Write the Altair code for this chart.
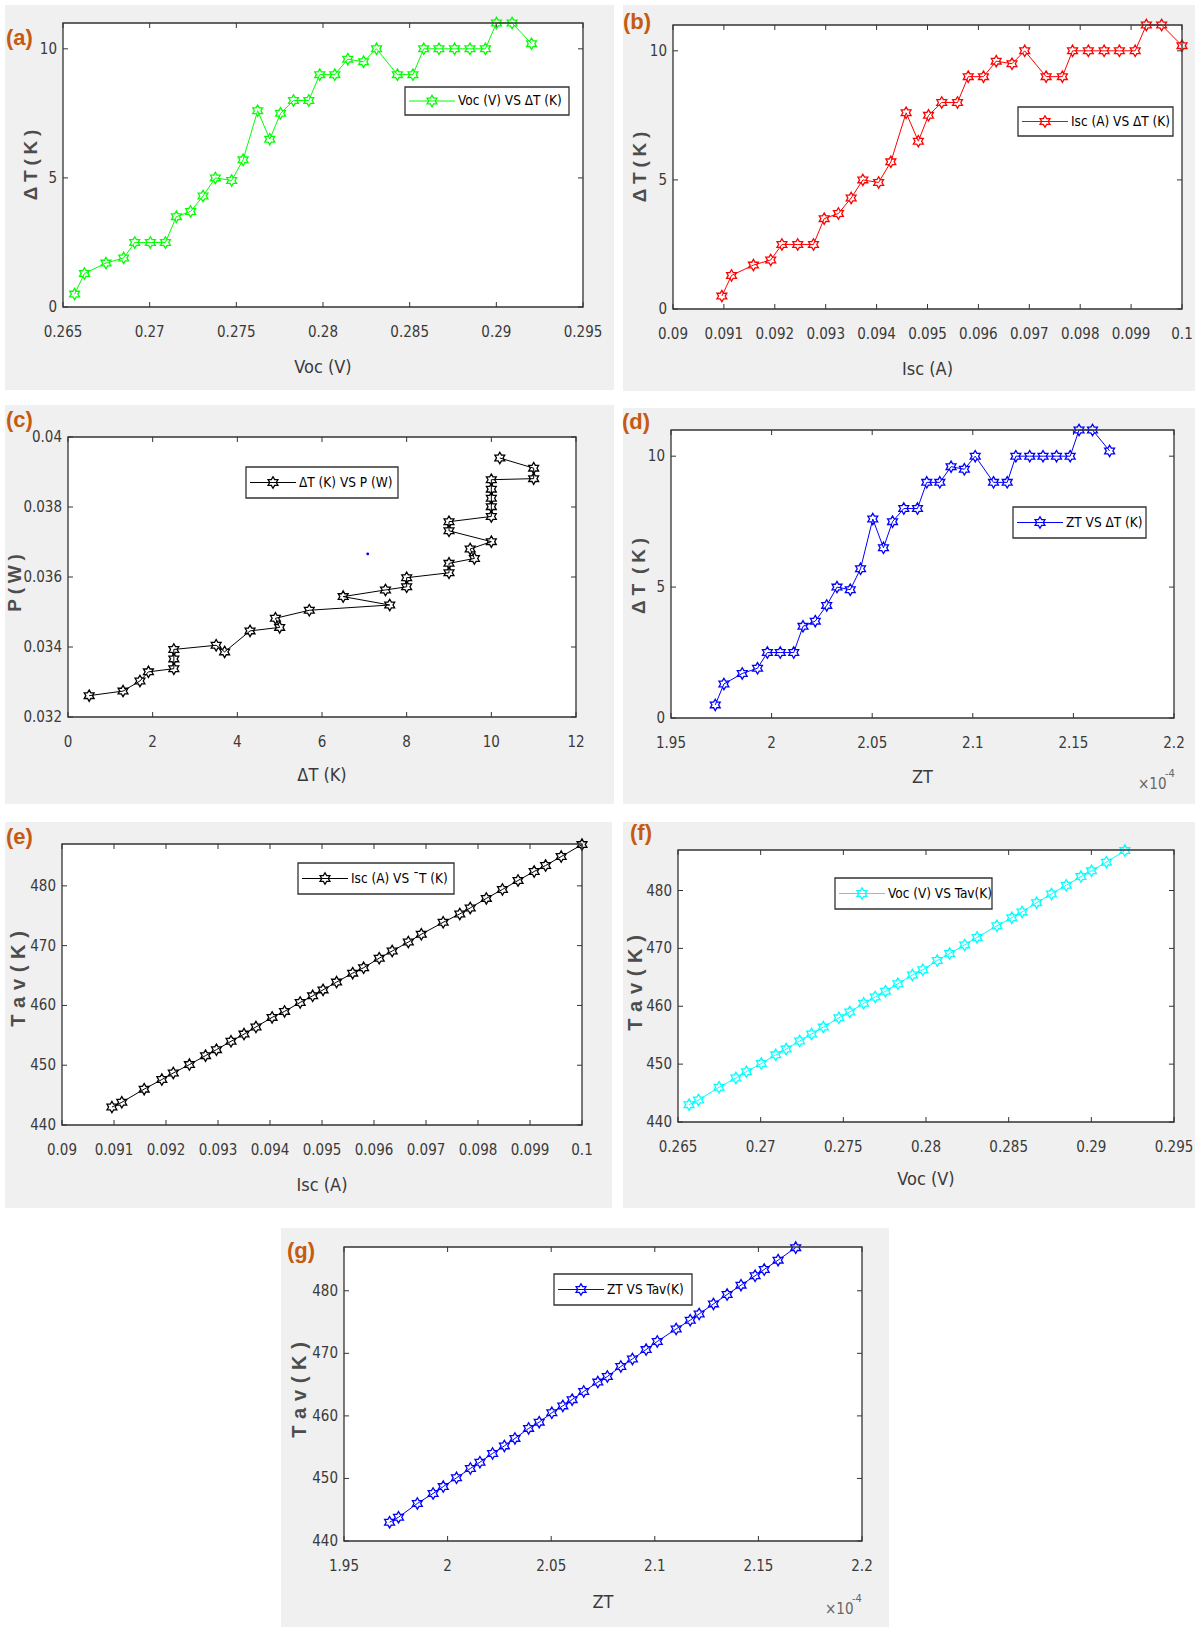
import altair as alt
import pandas as pd

# ---------------- data ----------------
delta_T = [0.5, 1.3, 1.7, 1.9, 2.5, 2.5, 2.5, 3.5, 3.7, 4.3, 5.0, 4.9, 5.7, 7.6, 6.5, 7.5,
           8.0, 8.0, 9.0, 9.0, 9.6, 9.5, 10.0, 9.0, 9.0, 10.0, 10.0, 10.0, 10.0, 10.0,
           11.0, 11.0, 10.2]
voc = [0.26567, 0.26624, 0.26748, 0.2685, 0.26914, 0.27004, 0.27091, 0.27154, 0.27236,
       0.27308, 0.27379, 0.27473, 0.27539, 0.27623, 0.27693, 0.27755, 0.27830, 0.27918,
       0.27981, 0.28068, 0.28143, 0.28234, 0.28309, 0.28429, 0.28519, 0.28581, 0.28669,
       0.28759, 0.28848, 0.28937, 0.29001, 0.29091, 0.29203]
isc = [0.09096, 0.09115, 0.09158, 0.09192, 0.09214, 0.09245, 0.09276, 0.09297, 0.09325,
       0.0935, 0.09373, 0.09404, 0.09428, 0.09458, 0.09482, 0.09502, 0.09528, 0.09559,
       0.0958, 0.0961, 0.09635, 0.09666, 0.09691, 0.09733, 0.09765, 0.09785, 0.09816,
       0.09847, 0.09877, 0.09908, 0.0993, 0.0996, 0.1]
zt_e4 = [1.972, 1.9763, 1.9854, 1.993, 1.9979, 2.0043, 2.011, 2.0156, 2.0217, 2.0274,
         2.0325, 2.0391, 2.0442, 2.0503, 2.0556, 2.0601, 2.0657, 2.0725, 2.0771, 2.0836,
         2.0892, 2.0958, 2.1012, 2.1103, 2.1171, 2.1214, 2.1283, 2.1349, 2.1416, 2.1484,
         2.1528, 2.1595, 2.168]
tav = [443.0, 443.8, 446.0, 447.6, 448.7, 450.1, 451.6, 452.6, 454.0, 455.2, 456.4, 458.0,
       459.0, 460.5, 461.6, 462.6, 463.9, 465.4, 466.3, 467.9, 469.1, 470.6, 471.9, 473.9,
       475.3, 476.3, 477.9, 479.4, 480.9, 482.4, 483.4, 484.9, 486.9]
power = [0.03261, 0.03274, 0.03303, 0.03329, 0.03338, 0.03366, 0.03393, 0.03405, 0.03386,
         0.03446, 0.03456, 0.03482, 0.03505, 0.03520, 0.03544, 0.03563, 0.03572, 0.03598,
         0.03612, 0.03639, 0.03653, 0.03680, 0.03701, 0.03732, 0.03758, 0.03773, 0.03801,
         0.03825, 0.03851, 0.03878, 0.03881, 0.03911, 0.03940]
stray_dT = [7.08]
stray_P = [0.03666]

voc_ticks = [0.265, 0.27, 0.275, 0.28, 0.285, 0.29, 0.295]
isc_ticks = [0.09, 0.091, 0.092, 0.093, 0.094, 0.095, 0.096, 0.097, 0.098, 0.099, 0.1]
dT_xticks = [0, 2, 4, 6, 8, 10, 12]
zt_ticks = [1.95, 2.0, 2.05, 2.1, 2.15, 2.2]
dT_yticks = [0, 5, 10]
p_ticks = [0.032, 0.034, 0.036, 0.038, 0.04]
tav_ticks = [440, 450, 460, 470, 480]

# ---------------- styling ----------------
HEX = ("M0,-1L0.2887,-0.5L0.866,-0.5L0.5774,0L0.866,0.5L0.2887,0.5L0,1L-0.2887,0.5"
       "L-0.866,0.5L-0.5774,0L-0.866,-0.5L-0.2887,-0.5Z")
NARROW = "Liberation Sans Narrow, DejaVu Sans Condensed, Liberation Sans, sans-serif"
SANS = "Liberation Sans, Arial, sans-serif"
GRAY = "#f0f0f0"
AX = "#333333"
LAB = "#3a3a3a"
YT = "#4d4d4d"
ORANGE = "#c55a11"
S4 = "\u2005"
S3 = "\u2004"


def fmt(v):
    return "%g" % v


def panel(c):
    w, h = c["w"], c["h"]
    cx1, cx2, cy1, cy2 = c["cell"]
    cw, ch = cx2 - cx1, cy2 - cy1
    ox, oy = -cx1, -cy1          # plot-area origin inside the cell
    xs = alt.Scale(domain=c["xdom"], range=[ox, ox + w], nice=False, zero=False)
    ys = alt.Scale(domain=c["ydom"], range=[oy + h, oy], nice=False, zero=False)
    df = pd.DataFrame({"x": c["x"], "y": c["y"], "i": list(range(len(c["x"])))})
    dummy = pd.DataFrame({"k": [0]})
    col = c["color"]

    V = lambda v: alt.value(v + ox)
    W = lambda v: alt.value(v + oy)

    def box(x1, x2, y1, y2, **kw):
        return alt.Chart(dummy).mark_rect(**kw).encode(x=V(x1), x2=V(x2), y=W(y1), y2=W(y2))

    def txt(x, y, s, **kw):
        return alt.Chart(dummy).mark_text(**kw).encode(x=V(x), y=W(y), text=alt.value(s))

    X = lambda f: alt.X(f, scale=xs, axis=None)
    Y = lambda f: alt.Y(f, scale=ys, axis=None)

    gx1, gx2, gy1, gy2 = c["gray"]
    layers = [
        box(cx1, cx2, cy1, cy2, fill="white"),
        box(gx1, gx2, gy1, gy2, fill=GRAY),
        box(0, w, 0, h, fill="white"),
    ]
    xt = pd.DataFrame({"v": c["xticks"], "t": [fmt(v) for v in c["xticks"]]})
    yt = pd.DataFrame({"v": c["yticks"], "t": [fmt(v) for v in c["yticks"]]})
    for a, b in [(h, h - 5), (0, 5)]:
        layers.append(alt.Chart(xt).mark_rule(color=AX, strokeWidth=1).encode(
            x=X("v:Q"), y=W(a), y2=W(b)))
    for a, b in [(0, 5), (w - 5, w)]:
        layers.append(alt.Chart(yt).mark_rule(color=AX, strokeWidth=1).encode(
            y=Y("v:Q"), x=V(a), x2=V(b)))

    # tick labels
    layers.append(alt.Chart(xt).mark_text(align="center", baseline="top", font=NARROW,
                                          fontSize=15, color=LAB).encode(
        x=X("v:Q"), y=W(h + 18), text="t:N"))
    layers.append(alt.Chart(yt).mark_text(align="right", baseline="middle", font=NARROW,
                                          fontSize=15, color=LAB).encode(
        y=Y("v:Q"), x=V(-6), text="t:N"))
    # axis titles
    layers.append(txt(c.get("xtx", w / 2), h + c["xty"], c["xtitle"], align="center",
                      baseline="middle", font=NARROW, fontSize=18, color=LAB))
    layers.append(txt(c["ytx"], c["yty"], c["ytitle"], align="center", baseline="middle",
                      font=SANS, fontSize=c.get("ytfs", 19), fontWeight="bold", color=YT,
                      angle=270))

    layers.append(alt.Chart(df).mark_line(color=col, strokeWidth=1).encode(
        x=X("x:Q"), y=Y("y:Q"), order="i:Q"))
    layers.append(alt.Chart(df).mark_point(shape=HEX, size=130, filled=False, color=col,
                                           strokeWidth=1.3, opacity=1).encode(
        x=X("x:Q"), y=Y("y:Q")))

    if "stray" in c:
        sd = pd.DataFrame({"x": c["stray"][0], "y": c["stray"][1]})
        layers.append(alt.Chart(sd).mark_point(shape="circle", size=8, filled=True,
                                               color="#0000ff", opacity=1).encode(
            x=X("x:Q"), y=Y("y:Q")))

    layers.append(box(0, w, 0, h, fillOpacity=0, stroke=AX, strokeWidth=1.3))

    lx1, lx2, ly1, ly2 = c["leg"]
    ym = (ly1 + ly2) / 2
    layers.append(box(lx1, lx2, ly1, ly2, fill="white", stroke=AX, strokeWidth=1.3))
    layers.append(alt.Chart(dummy).mark_rule(color=col, strokeWidth=1.2).encode(
        x=V(lx1 + 4), x2=V(lx1 + 50), y=W(ym)))
    layers.append(alt.Chart(dummy).mark_point(shape=HEX, size=130, filled=False, color=col,
                                              strokeWidth=1.3, opacity=1).encode(
        x=V(lx1 + 27), y=W(ym)))
    layers.append(txt(lx1 + 53, ym, c["legtext"], align="left", baseline="middle",
                      font=NARROW, fontSize=13.5, color="black"))

    px, py = c["lab"]
    layers.append(txt(px, py, c["label"], align="left", baseline="middle", font=SANS,
                      fontSize=22, fontWeight="bold", color=ORANGE))
    if "exp" in c:
        ex, ey = c["exp"]
        layers.append(txt(ex, ey, "\u00d710", align="left", baseline="middle", font=NARROW,
                          fontSize=15, color="#666666"))
        layers.append(txt(ex + 27, ey - 10, "-4", align="left", baseline="middle", font=NARROW,
                          fontSize=11, color="#666666"))

    return alt.layer(*layers).properties(width=cw, height=ch)


dT_title = "\u0394" + S4 + "T" + S4 + "(" + S4 + "K" + S4 + ")"
dT_title_d = "\u0394" + S4 + "T " + S4 + "(" + S4 + "K" + S4 + ")"
tav_title = "T" + S3 + "a" + S3 + "v" + S3 + "(" + S3 + "K" + S3 + ")"
p_title = "P" + S4 + "(" + S4 + "W" + S4 + ")"

pa = panel(dict(x=voc, y=delta_T, color="#00ff00", w=520, h=284,
                xdom=[0.265, 0.295], ydom=[0, 11], xticks=voc_ticks, yticks=dT_yticks,
                xtitle="Voc (V)", xty=61, ytitle=dT_title, ytx=-32, yty=142,
                cell=(-63, 555, -23, 375), gray=(-58, 551, -18, 367),
                leg=(342, 506, 64, 92), legtext="Voc (V) VS \u0394T (K)",
                label="(a)", lab=(-57, 15)))
pb = panel(dict(x=isc, y=delta_T, color="#ff0000", w=509, h=284,
                xdom=[0.09, 0.1], ydom=[0, 11], xticks=isc_ticks, yticks=dT_yticks,
                xtitle="Isc (A)", xty=61, ytitle=dT_title, ytx=-33, yty=142,
                cell=(-55, 522, -25, 373), gray=(-50, 522, -20, 366),
                leg=(345, 500, 82, 111), legtext="Isc (A) VS \u0394T (K)",
                label="(b)", lab=(-50, -3)))
pc = panel(dict(x=delta_T, y=power, color="#000000", w=508, h=280,
                xdom=[0, 12], ydom=[0.032, 0.04], xticks=dT_xticks, yticks=p_ticks,
                xtitle="\u0394T (K)", xty=59, ytitle=p_title, ytx=-53, yty=146,
                cell=(-68, 550, -39, 376), gray=(-63, 546, -32, 367),
                leg=(178, 330, 30, 61), legtext="\u0394T (K) VS P (W)",
                label="(c)", lab=(-62, -17), stray=(stray_dT, stray_P)))
pd_ = panel(dict(x=zt_e4, y=delta_T, color="#0000ff", w=503, h=288,
                 xdom=[1.95, 2.2], ydom=[0, 11], xticks=zt_ticks, yticks=dT_yticks,
                 xtitle="ZT", xty=60, ytitle=dT_title_d, ytx=-32, yty=146,
                 cell=(-53, 524, -32, 383), gray=(-48, 524, -22, 374),
                 leg=(342, 475, 77, 108), legtext="ZT VS \u0394T (K)",
                 label="(d)", lab=(-49, -8), exp=(467, 354)))
pe = panel(dict(x=isc, y=tav, color="#000000", w=520, h=281,
                xdom=[0.09, 0.1], ydom=[440, 487], xticks=isc_ticks, yticks=tav_ticks,
                xtitle="Isc (A)", xty=61, ytitle=tav_title, ytfs=20, ytx=-43, yty=135,
                cell=(-62, 556, -31, 374), gray=(-57, 550, -22, 364),
                leg=(236, 392, 19, 50), legtext="Isc (A) VS \u00afT (K)",
                label="(e)", lab=(-56, -7)))
pf = panel(dict(x=voc, y=tav, color="#00ffff", w=496, h=272,
                xdom=[0.265, 0.295], ydom=[440, 487], xticks=voc_ticks, yticks=tav_ticks,
                xtitle="Voc (V)", xty=58, ytitle=tav_title, ytfs=20, ytx=-42, yty=133,
                cell=(-60, 517, -37, 368), gray=(-55, 517, -28, 358),
                leg=(157, 314, 28, 59), legtext="Voc (V) VS Tav(K)",
                label="(f)", lab=(-48, -17)))
pg = panel(dict(x=zt_e4, y=tav, color="#0000ff", w=518, h=294,
                xdom=[1.95, 2.2], ydom=[440, 487], xticks=zt_ticks, yticks=tav_ticks,
                xtitle="ZT", xty=62, ytitle=tav_title, ytfs=20, ytx=-44, yty=143,
                cell=(-344, 851, -29, 380), gray=(-63, 545, -19, 380),
                leg=(210, 348, 27, 58), legtext="ZT VS Tav(K)",
                label="(g)", lab=(-57, 4), exp=(481, 362)))

chart = alt.vconcat(
    alt.hconcat(pa, pb, spacing=0),
    alt.hconcat(pc, pd_, spacing=0),
    alt.hconcat(pe, pf, spacing=0),
    pg,
    spacing=0,
).properties(padding=0).configure_view(stroke=None)

chart.save("out.html", embed_options={"renderer": "svg", "actions": False})
